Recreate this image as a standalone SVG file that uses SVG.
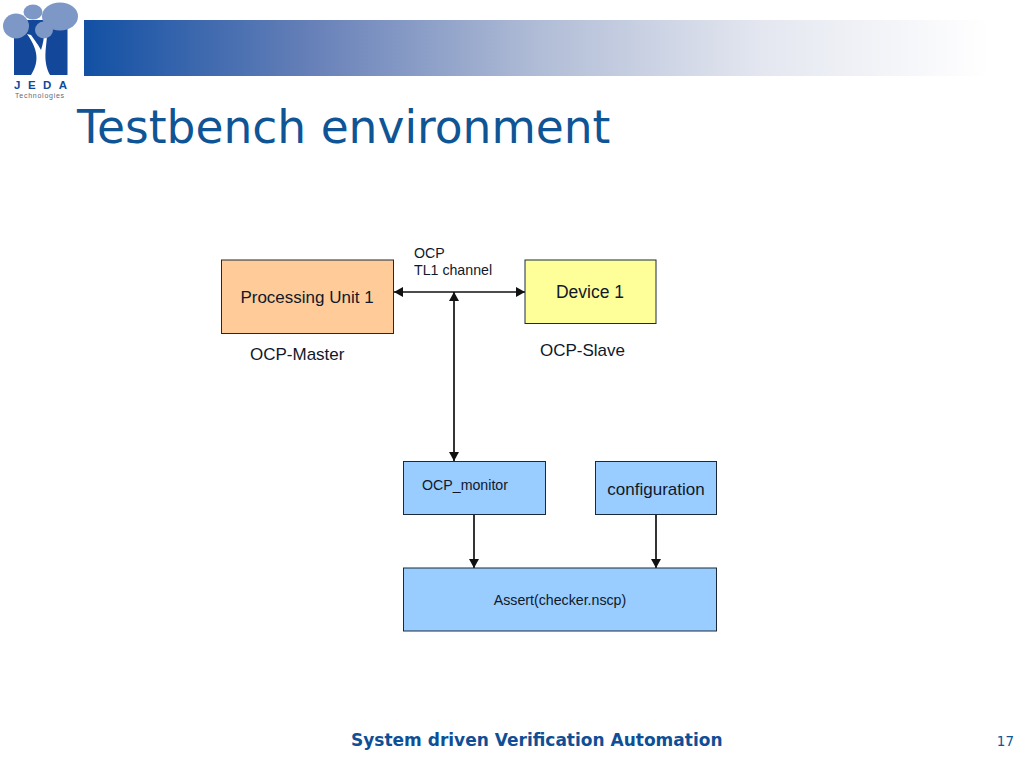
<svg xmlns="http://www.w3.org/2000/svg" width="1024" height="768" viewBox="0 0 1024 768">
<style>
text{font-family:"Liberation Sans",Arial,sans-serif;fill:#10182a}
.n{stroke:#1a2a3a;stroke-width:1}
.blue{fill:#99ccff}
.c{stroke:#111;stroke-width:1.700;fill:none}
.t{font-size:17px}
.s{font-size:14.200px}
</style>
<defs>
<linearGradient id="band" x1="0" x2="1" y1="0" y2="0">
<stop offset="0" stop-color="#1250a4"/>
<stop offset="0.25" stop-color="#6680b8"/>
<stop offset="0.5" stop-color="#b0bcd6"/>
<stop offset="0.75" stop-color="#e4e7f0"/>
<stop offset="1" stop-color="#ffffff"/>
</linearGradient>
<marker id="a" markerUnits="userSpaceOnUse" markerWidth="12" markerHeight="12" refX="9" refY="5" orient="auto-start-reverse"><path d="M0 0L9 5L0 10Z" fill="#111"/></marker>
</defs>
<rect width="1024" height="768" fill="#fff"/>
<g id="logo">
<rect x="14" y="20" width="53.500" height="55" fill="#12479a"/>
<path d="M31 75C38 64 40 52 27 34L31 35C36 42 39 46 41 50C43 44 44 38 44 34L47 34C47 46 42 60 50 75Z" fill="#fff"/>
<ellipse cx="16" cy="26" rx="13" ry="12.500" fill="#7d98c6"/>
<ellipse cx="33" cy="12" rx="9.500" ry="7.500" fill="#7d98c6"/>
<ellipse cx="60" cy="16.500" rx="18" ry="14" fill="#7d98c6"/>
<ellipse cx="44" cy="30" rx="9" ry="8.500" fill="#7d98c6"/>
<text x="14" y="89" style="font-size:11.500px;font-weight:bold;fill:#12479a;letter-spacing:7.500px">JEDA</text>
<text x="15" y="98" style="font-size:7px;fill:#667;letter-spacing:.75px">Technologies</text>
</g>
<rect id="band-bar" x="84" y="20" width="905" height="56" fill="url(#band)"/>
<text x="77" y="143" style="font-family:'DejaVu Sans',sans-serif;font-size:45.500px;fill:#0f5596">Testbench environment</text>
<g id="connectors">
<path class="c" d="M394 292H525" marker-start="url(#a)" marker-end="url(#a)"/>
<path class="c" d="M454 292V461" marker-start="url(#a)" marker-end="url(#a)"/>
<path class="c" d="M474 515V568" marker-end="url(#a)"/>
<path class="c" d="M656 515V568" marker-end="url(#a)"/>
</g>
<g id="processing"><rect class="n" x="221.500" y="260" width="172" height="73.500" fill="#ffcc99"/><text class="t" x="307" y="303" text-anchor="middle">Processing Unit 1</text></g>
<g id="device"><rect class="n" x="525" y="260" width="131" height="63.500" fill="#ffff99"/><text x="590" y="298" text-anchor="middle" style="font-size:17.500px">Device 1</text></g>
<g id="monitor"><rect class="n blue" x="403.500" y="461.500" width="142" height="53"/><text class="s" x="465" y="490" text-anchor="middle">OCP_monitor</text></g>
<g id="configuration"><rect class="n blue" x="595.500" y="461.500" width="121" height="53"/><text class="t" x="656" y="495" text-anchor="middle">configuration</text></g>
<g id="assert"><rect class="n blue" x="403.500" y="568" width="313" height="63"/><text class="s" x="560" y="605" text-anchor="middle">Assert(checker.nscp)</text></g>
<text class="s" x="414" y="258">OCP</text>
<text class="s" x="414" y="275">TL1 channel</text>
<text class="t" x="250" y="360">OCP-Master</text>
<text class="t" x="540" y="356">OCP-Slave</text>
<text x="351" y="746" style="font-family:'DejaVu Sans',sans-serif;font-size:17px;font-weight:bold;fill:#0f4f96">System driven Verification Automation</text>
<text x="1014" y="746" text-anchor="end" style="font-family:'DejaVu Sans',sans-serif;font-size:13.500px;fill:#0f5596">17</text>
</svg>
